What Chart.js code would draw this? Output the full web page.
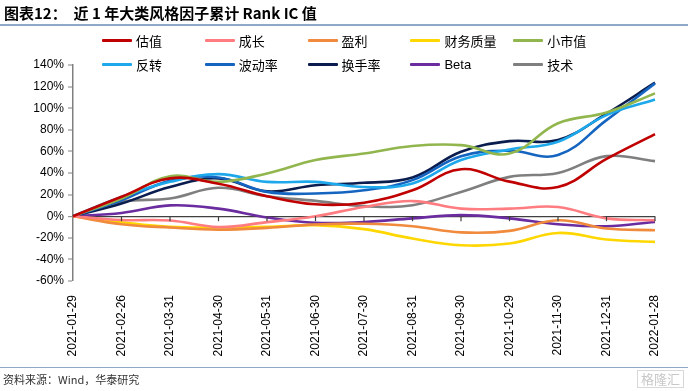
<!DOCTYPE html>
<html>
<head>
<meta charset="utf-8">
<script src="https://cdn.jsdelivr.net/npm/chart.js@4"></script>
<style>
  html, body { margin: 0; padding: 0; background: #fff; }
  #wrap { position: relative; width: 688px; height: 391px; overflow: hidden; font-family: "Liberation Sans", Arial, "Noto Sans CJK SC", sans-serif; }
  #chartBox { position: absolute; left: 0; top: 0; width: 688px; height: 391px; }
  #c { display: block; width: 688px; height: 391px; }
  #title { position: absolute; left: 4px; top: 2px; font-family: "Noto Sans CJK SC", sans-serif; font-weight: bold; font-size: 15px; color: #000; white-space: pre; }
  #titleLine { position: absolute; left: 0; top: 24px; width: 688px; height: 2px; background: #8FA8C8; }
  #footLine { position: absolute; left: 0; top: 367px; width: 688px; height: 1px; background: #8FA8C8; }
  #foot { position: absolute; left: 3px; top: 371px; font-family: "Noto Sans CJK SC", sans-serif; font-size: 11px; color: #333; }
  #mark { position: absolute; right: 4px; top: 370px; font-family: "Noto Sans CJK SC", sans-serif; font-size: 13px; color: #c8c8c8; border: 1px solid #d8d8d8; padding: 0 3px; line-height: 16px; }
  .leg { position: absolute; height: 16px; display: flex; align-items: center; font-family: "Liberation Sans", "Noto Sans CJK SC", sans-serif; font-size: 13px; color: #000; white-space: nowrap; }
  .leg i { display: inline-block; width: 30px; height: 3px; margin-right: 4px; border-radius: 1px; }
</style>
</head>
<body>
<div id="wrap">
  <div id="chartBox"><canvas id="c" width="688" height="391"></canvas></div>
  <div id="title">图表12：  近 1 年大类风格因子累计 Rank IC 值</div>
  <div id="titleLine"></div>
  <div id="legend"></div>
  <div id="footLine"></div>
  <div id="foot">资料来源：Wind，华泰研究</div>
  <div id="mark">格隆汇</div>
</div>
<script>
// ---- data (cumulative Rank IC, %) ----
const categories = ["2021-01-29","2021-02-26","2021-03-31","2021-04-30","2021-05-31","2021-06-30","2021-07-30","2021-08-31","2021-09-30","2021-10-29","2021-11-30","2021-12-31","2022-01-28"];
const seriesNames = ["估值","成长","盈利","财务质量","小市值","反转","波动率","换手率","Beta","技术"];
const valuation   = [0, 18, 35, 30, 18.5, 11, 12.5, 24, 43.5, 32, 27, 53, 76];
const growth      = [0, -3.5, -4, -10, -5.5, 0, 8.5, 14, 7, 7, 8.5, -2, -3.7];
const profit      = [0, -7.4, -10.5, -12.4, -10.8, -7.7, -7, -9.3, -15, -13.6, -3.7, -11.4, -13];
const quality     = [0, -5.6, -9.9, -10.5, -9.9, -8.3, -12, -20.7, -26.9, -25.3, -15.5, -21.6, -23.8];
const smallCap    = [0, 16.4, 37, 31.8, 39.6, 52, 58, 65, 65.8, 58, 86, 96, 113.7];
const reversal    = [0, 17.9, 31.8, 39, 31.8, 31.8, 27, 30.3, 52, 61.8, 69, 93.6, 108];
const volatility  = [0, 14.8, 32.7, 35.8, 22.5, 21, 24, 33.4, 55.6, 60.6, 56.6, 89, 123];
const turnover    = [0, 11.8, 27, 35, 23, 28.7, 30.9, 35.8, 59.6, 69.5, 70.5, 95, 123.6];
const beta        = [0, 3, 10, 7, -1.2, -6.2, -5.3, -2, 1, -2, -7.4, -9.3, -5.3];
const technical   = [0, 13.3, 16.4, 26.3, 18.5, 14.2, 9.3, 10.2, 22.5, 36.4, 40, 55.6, 51];
const yTicks = [-60, -40, -20, 0, 20, 40, 60, 80, 100, 120, 140];

const seriesData = [valuation, growth, profit, quality, smallCap, reversal, volatility, turnover, beta, technical];
const colors = ["#C00000","#FF7C80","#F08A3C","#FFD700","#92B64E","#1EA8EC","#1565C0","#0B1D4F","#6A2C9E","#7F7F7F"];

// ---- HTML legend (2 rows x 5 columns) ----
const legend = document.getElementById('legend');
seriesNames.forEach((name, i) => {
  const d = document.createElement('div');
  d.className = 'leg';
  d.style.left = (102 + (i % 5) * 102.8) + 'px';
  d.style.top = (i < 5 ? 32 : 56) + 'px';
  d.innerHTML = '<i style="background:' + colors[i] + '"></i><span>' + name + '</span>';
  legend.appendChild(d);
});

// ---- tick marks on the zero line ----
const zeroTicks = {
  id: 'zeroTicks',
  afterDatasetsDraw(chart) {
    const x = chart.scales.x, y = chart.scales.y;
    const y0 = y.getPixelForValue(0);
    const ctx = chart.ctx;
    ctx.save();
    ctx.strokeStyle = '#404040';
    ctx.lineWidth = 1.2;
    for (let i = 1; i < categories.length; i++) {
      const px = x.getPixelForValue(i);
      ctx.beginPath();
      ctx.moveTo(px, y0);
      ctx.lineTo(px, y0 + 5);
      ctx.stroke();
    }
    ctx.restore();
  }
};

new Chart(document.getElementById('c'), {
  type: 'line',
  data: {
    labels: categories,
    datasets: seriesNames.map((n, i) => ({
      label: n,
      data: seriesData[i],
      borderColor: colors[i],
      backgroundColor: colors[i],
      borderWidth: 2.6,
      pointRadius: 0,
      tension: 0.4,
      fill: false
    }))
  },
  options: {
    responsive: false,
    maintainAspectRatio: false,
    animation: false,
    devicePixelRatio: 1,
    layout: { padding: { top: 65, right: 33, left: 0, bottom: 0 } },
    plugins: { legend: { display: false }, tooltip: { enabled: false } },
    scales: {
      x: {
        offset: false,
        grid: { display: false },
        border: { display: false },
        ticks: {
          autoSkip: false, maxRotation: 90, minRotation: 90, padding: 6,
          color: '#000', font: { family: 'Liberation Sans', size: 12 }
        },
        afterFit(s) { s.height = 110; }
      },
      y: {
        min: -60, max: 140,
        afterBuildTicks(s) { s.ticks = yTicks.map(v => ({ value: v })); },
        grid: {
          drawOnChartArea: true,
          color: ctx => (ctx.tick && ctx.tick.value === 0) ? '#404040' : 'rgba(0,0,0,0)',
          lineWidth: ctx => (ctx.tick && ctx.tick.value === 0) ? 1.3 : 0,
          drawTicks: true, tickLength: 5, tickColor: '#808080', tickWidth: 1
        },
        border: { display: true, color: '#808080', width: 1.5 },
        ticks: {
          padding: 4, color: '#000', font: { family: 'Liberation Sans', size: 12 },
          callback: v => v + '%'
        },
        afterFit(s) { s.width = 73; }
      }
    }
  },
  plugins: [zeroTicks]
});
</script>
</body>
</html>
